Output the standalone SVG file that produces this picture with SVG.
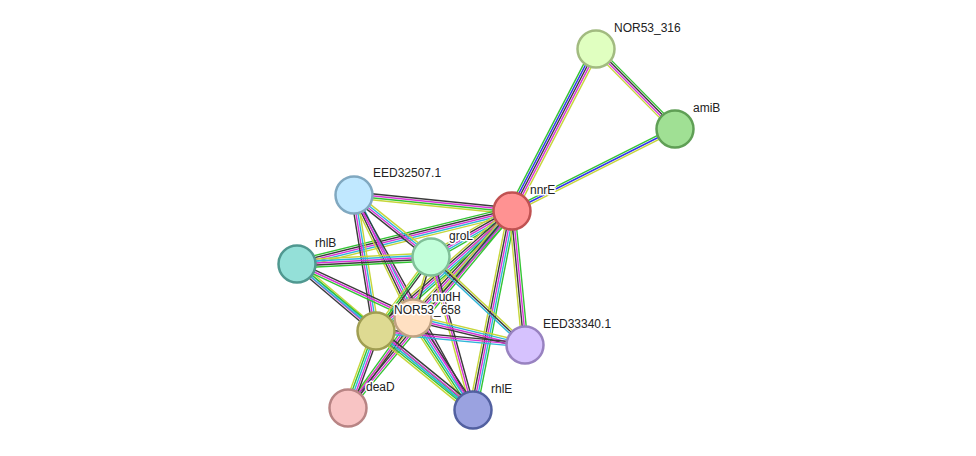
<svg xmlns="http://www.w3.org/2000/svg" xmlns:xlink="http://www.w3.org/1999/xlink" width="976" height="456" viewBox="0 0 976 456">
<style>
.g{stroke:#33c433}.b{stroke:#3333ee}.k{stroke:#3a3a3a}.m{stroke:#d634d6}.c{stroke:#2fb6d8}.y{stroke:#c6d63a}
#edges use{stroke-width:1.4}
.n{stroke-width:2.5}
text{font-family:"Liberation Sans",Arial,sans-serif;font-size:12px;fill:#222;stroke:#fff;stroke-width:3px;paint-order:stroke;stroke-linejoin:round}
</style>
<defs>
<line id="e1" x1="512" y1="211" x2="596" y2="49"/>
<line id="e2" x1="596" y1="49" x2="675" y2="129"/>
<line id="e3" x1="512" y1="211" x2="675" y2="129"/>
<line id="e4" x1="512" y1="211" x2="354" y2="195"/>
<line id="e5" x1="512" y1="211" x2="297" y2="264"/>
<line id="e6" x1="512" y1="211" x2="431" y2="257"/>
<line id="e7" x1="512" y1="211" x2="413" y2="318"/>
<line id="e8" x1="512" y1="211" x2="376" y2="331"/>
<line id="e9" x1="512" y1="211" x2="348" y2="408"/>
<line id="e10" x1="512" y1="211" x2="473" y2="410"/>
<line id="e11" x1="512" y1="211" x2="525" y2="345"/>
<line id="e12" x1="354" y1="195" x2="431" y2="257"/>
<line id="e13" x1="354" y1="195" x2="376" y2="331"/>
<line id="e14" x1="354" y1="195" x2="413" y2="318"/>
<line id="e15" x1="354" y1="195" x2="473" y2="410"/>
<line id="e17" x1="297" y1="264" x2="431" y2="257"/>
<line id="e18" x1="297" y1="264" x2="376" y2="331"/>
<line id="e19" x1="297" y1="264" x2="413" y2="318"/>
<line id="e20" x1="297" y1="264" x2="473" y2="410"/>
<line id="e21" x1="431" y1="257" x2="413" y2="318"/>
<line id="e22" x1="431" y1="257" x2="376" y2="331"/>
<line id="e23" x1="431" y1="257" x2="525" y2="345"/>
<line id="e24" x1="431" y1="257" x2="473" y2="410"/>
<line id="e26" x1="413" y1="318" x2="525" y2="345"/>
<line id="e27" x1="413" y1="318" x2="473" y2="410"/>
<line id="e28" x1="413" y1="318" x2="348" y2="408"/>
<line id="e29" x1="376" y1="331" x2="525" y2="345"/>
<line id="e30" x1="376" y1="331" x2="473" y2="410"/>
<line id="e31" x1="376" y1="331" x2="348" y2="408"/>
</defs>
<rect width="976" height="456" fill="#fff"/>
<g id="edges">
<use xlink:href="#e1" class="g" transform="translate(-3.56,-1.84)"/><use xlink:href="#e1" class="b" transform="translate(-1.78,-0.92)"/><use xlink:href="#e1" class="k"/><use xlink:href="#e1" class="m" transform="translate(1.78,0.92)"/><use xlink:href="#e1" class="y" transform="translate(3.56,1.84)"/>
<use xlink:href="#e2" class="g" transform="translate(2.13,-2.12)"/><use xlink:href="#e2" class="k" transform="translate(0.71,-0.71)"/><use xlink:href="#e2" class="m" transform="translate(-0.71,0.71)"/><use xlink:href="#e2" class="y" transform="translate(-2.13,2.12)"/>
<use xlink:href="#e3" class="g" transform="translate(-0.9,-1.79)"/><use xlink:href="#e3" class="b"/><use xlink:href="#e3" class="y" transform="translate(0.9,1.79)"/>
<use xlink:href="#e4" class="y" transform="translate(-0.3,2.99)"/><use xlink:href="#e4" class="g" transform="translate(-0.1,1)"/><use xlink:href="#e4" class="m" transform="translate(0.1,-1)"/><use xlink:href="#e4" class="k" transform="translate(0.3,-2.99)"/>
<use xlink:href="#e5" class="y" transform="translate(0.96,3.88)"/><use xlink:href="#e5" class="c" transform="translate(0.48,1.94)"/><use xlink:href="#e5" class="m"/><use xlink:href="#e5" class="k" transform="translate(-0.48,-1.94)"/><use xlink:href="#e5" class="g" transform="translate(-0.96,-3.88)"/>
<use xlink:href="#e6" class="g" transform="translate(1.98,3.48)"/><use xlink:href="#e6" class="c" transform="translate(0.99,1.74)"/><use xlink:href="#e6" class="m"/><use xlink:href="#e6" class="k" transform="translate(-0.99,-1.74)"/><use xlink:href="#e6" class="y" transform="translate(-1.98,-3.48)"/>
<use xlink:href="#e7" class="g" transform="translate(2.94,2.72)"/><use xlink:href="#e7" class="c" transform="translate(1.47,1.36)"/><use xlink:href="#e7" class="m"/><use xlink:href="#e7" class="k" transform="translate(-1.47,-1.36)"/><use xlink:href="#e7" class="y" transform="translate(-2.94,-2.72)"/>
<use xlink:href="#e8" class="g" transform="translate(2.64,3)"/><use xlink:href="#e8" class="c" transform="translate(1.32,1.5)"/><use xlink:href="#e8" class="m"/><use xlink:href="#e8" class="k" transform="translate(-1.32,-1.5)"/><use xlink:href="#e8" class="y" transform="translate(-2.64,-3)"/>
<use xlink:href="#e9" class="g" transform="translate(2.31,1.92)"/><use xlink:href="#e9" class="m" transform="translate(0.77,0.64)"/><use xlink:href="#e9" class="k" transform="translate(-0.77,-0.64)"/><use xlink:href="#e9" class="y" transform="translate(-2.31,-1.92)"/>
<use xlink:href="#e10" class="g" transform="translate(3.92,0.76)"/><use xlink:href="#e10" class="c" transform="translate(1.96,0.38)"/><use xlink:href="#e10" class="m"/><use xlink:href="#e10" class="k" transform="translate(-1.96,-0.38)"/><use xlink:href="#e10" class="y" transform="translate(-3.92,-0.76)"/>
<use xlink:href="#e11" class="g" transform="translate(2.99,-0.29)"/><use xlink:href="#e11" class="m" transform="translate(1,-0.1)"/><use xlink:href="#e11" class="k" transform="translate(-1,0.1)"/><use xlink:href="#e11" class="y" transform="translate(-2.99,0.29)"/>
<use xlink:href="#e12" class="y" transform="translate(1.88,-2.34)"/><use xlink:href="#e12" class="c" transform="translate(0.63,-0.78)"/><use xlink:href="#e12" class="m" transform="translate(-0.63,0.78)"/><use xlink:href="#e12" class="k" transform="translate(-1.88,2.34)"/>
<use xlink:href="#e13" class="y" transform="translate(2.96,-0.48)"/><use xlink:href="#e13" class="c" transform="translate(0.99,-0.16)"/><use xlink:href="#e13" class="m" transform="translate(-0.99,0.16)"/><use xlink:href="#e13" class="k" transform="translate(-2.96,0.48)"/>
<use xlink:href="#e14" class="c" transform="translate(2.7,-1.3)"/><use xlink:href="#e14" class="m" transform="translate(0.9,-0.44)"/><use xlink:href="#e14" class="k" transform="translate(-0.9,0.44)"/><use xlink:href="#e14" class="y" transform="translate(-2.7,1.3)"/>
<use xlink:href="#e15" class="k" transform="translate(0.88,-0.49)"/><use xlink:href="#e15" class="m" transform="translate(-0.88,0.49)"/>
<use xlink:href="#e17" class="y" transform="translate(-0.2,-4)"/><use xlink:href="#e17" class="c" transform="translate(-0.1,-2)"/><use xlink:href="#e17" class="m"/><use xlink:href="#e17" class="k" transform="translate(0.1,2)"/><use xlink:href="#e17" class="g" transform="translate(0.2,4)"/>
<use xlink:href="#e18" class="y" transform="translate(1.94,-2.3)"/><use xlink:href="#e18" class="c" transform="translate(0.65,-0.77)"/><use xlink:href="#e18" class="m" transform="translate(-0.65,0.77)"/><use xlink:href="#e18" class="k" transform="translate(-1.94,2.3)"/>
<use xlink:href="#e19" class="k" transform="translate(0.84,-1.81)"/><use xlink:href="#e19" class="m"/><use xlink:href="#e19" class="g" transform="translate(-0.84,1.81)"/>
<use xlink:href="#e20" class="g" transform="translate(0.64,-0.77)"/><use xlink:href="#e20" class="c" transform="translate(-0.64,0.77)"/>
<use xlink:href="#e21" class="k" transform="translate(0.96,0.29)"/><use xlink:href="#e21" class="y" transform="translate(-0.96,-0.29)"/>
<use xlink:href="#e22" class="k" transform="translate(1.6,1.2)"/><use xlink:href="#e22" class="g"/><use xlink:href="#e22" class="y" transform="translate(-1.6,-1.2)"/>
<use xlink:href="#e23" class="y" transform="translate(1.37,-1.46)"/><use xlink:href="#e23" class="k"/><use xlink:href="#e23" class="c" transform="translate(-1.37,1.46)"/>
<use xlink:href="#e24" class="k" transform="translate(1.93,-0.53)"/><use xlink:href="#e24" class="m"/><use xlink:href="#e24" class="y" transform="translate(-1.93,0.53)"/>
<use xlink:href="#e26" class="y" transform="translate(0.71,-2.91)"/><use xlink:href="#e26" class="c" transform="translate(0.24,-0.97)"/><use xlink:href="#e26" class="m" transform="translate(-0.24,0.97)"/><use xlink:href="#e26" class="k" transform="translate(-0.71,2.91)"/>
<use xlink:href="#e27" class="k" transform="translate(3.36,-2.18)"/><use xlink:href="#e27" class="m" transform="translate(1.68,-1.09)"/><use xlink:href="#e27" class="c"/><use xlink:href="#e27" class="g" transform="translate(-1.68,1.09)"/><use xlink:href="#e27" class="y" transform="translate(-3.36,2.18)"/>
<use xlink:href="#e28" class="k" transform="translate(1.62,1.17)"/><use xlink:href="#e28" class="m"/><use xlink:href="#e28" class="g" transform="translate(-1.62,-1.17)"/>
<use xlink:href="#e29" class="k" transform="translate(0.19,-1.99)"/><use xlink:href="#e29" class="m"/><use xlink:href="#e29" class="c" transform="translate(-0.19,1.99)"/>
<use xlink:href="#e30" class="k" transform="translate(2.52,-3.1)"/><use xlink:href="#e30" class="m" transform="translate(1.26,-1.55)"/><use xlink:href="#e30" class="c"/><use xlink:href="#e30" class="g" transform="translate(-1.26,1.55)"/><use xlink:href="#e30" class="y" transform="translate(-2.52,3.1)"/>
<use xlink:href="#e31" class="k" transform="translate(3.76,1.36)"/><use xlink:href="#e31" class="m" transform="translate(1.88,0.68)"/><use xlink:href="#e31" class="c"/><use xlink:href="#e31" class="g" transform="translate(-1.88,-0.68)"/><use xlink:href="#e31" class="y" transform="translate(-3.76,-1.36)"/>
</g>
<g id="NOR53_316"><circle class="n" cx="596" cy="49" r="18.5" fill="#e0ffc0" stroke="#a2bb80"/></g>
<g id="amiB"><circle class="n" cx="675" cy="129" r="18.5" fill="#a0e094" stroke="#5f9f55"/></g>
<g id="nnrE"><circle class="n" cx="512" cy="211" r="18.5" fill="#ff9292" stroke="#c05252"/></g>
<g id="EED32507.1"><circle class="n" cx="354" cy="195" r="18.5" fill="#c0e8ff" stroke="#80a8c0"/></g>
<g id="groL"><circle class="n" cx="431" cy="257" r="18.5" fill="#c2ffda" stroke="#80c098"/></g>
<g id="rhlB"><circle class="n" cx="297" cy="264" r="18.5" fill="#94e0d8" stroke="#509890"/></g>
<g id="NOR53_658"><circle class="n" cx="376" cy="331" r="18.5" fill="#deda92" stroke="#a09e52"/></g>
<g id="nudH"><circle class="n" cx="413" cy="318" r="18.5" fill="#ffe0c2" stroke="#c0a282"/></g>
<g id="EED33340.1"><circle class="n" cx="525" cy="345" r="18.5" fill="#d6c2fe" stroke="#9882c0"/></g>
<g id="deaD"><circle class="n" cx="348" cy="408" r="18.5" fill="#f8c4c4" stroke="#b88484"/></g>
<g id="rhlE"><circle class="n" cx="473" cy="410" r="18.5" fill="#9aa2e0" stroke="#5260a0"/></g>
<g id="labels">
<text x="614" y="32">NOR53_316</text>
<text x="693" y="112">amiB</text>
<text x="530" y="194">nnrE</text>
<text x="373" y="177">EED32507.1</text>
<text x="449" y="240">groL</text>
<text x="315" y="247">rhlB</text>
<text x="432" y="301">nudH</text>
<text x="394" y="314">NOR53_658</text>
<text x="543" y="328">EED33340.1</text>
<text x="366" y="391">deaD</text>
<text x="491" y="393">rhlE</text>
</g>
</svg>
